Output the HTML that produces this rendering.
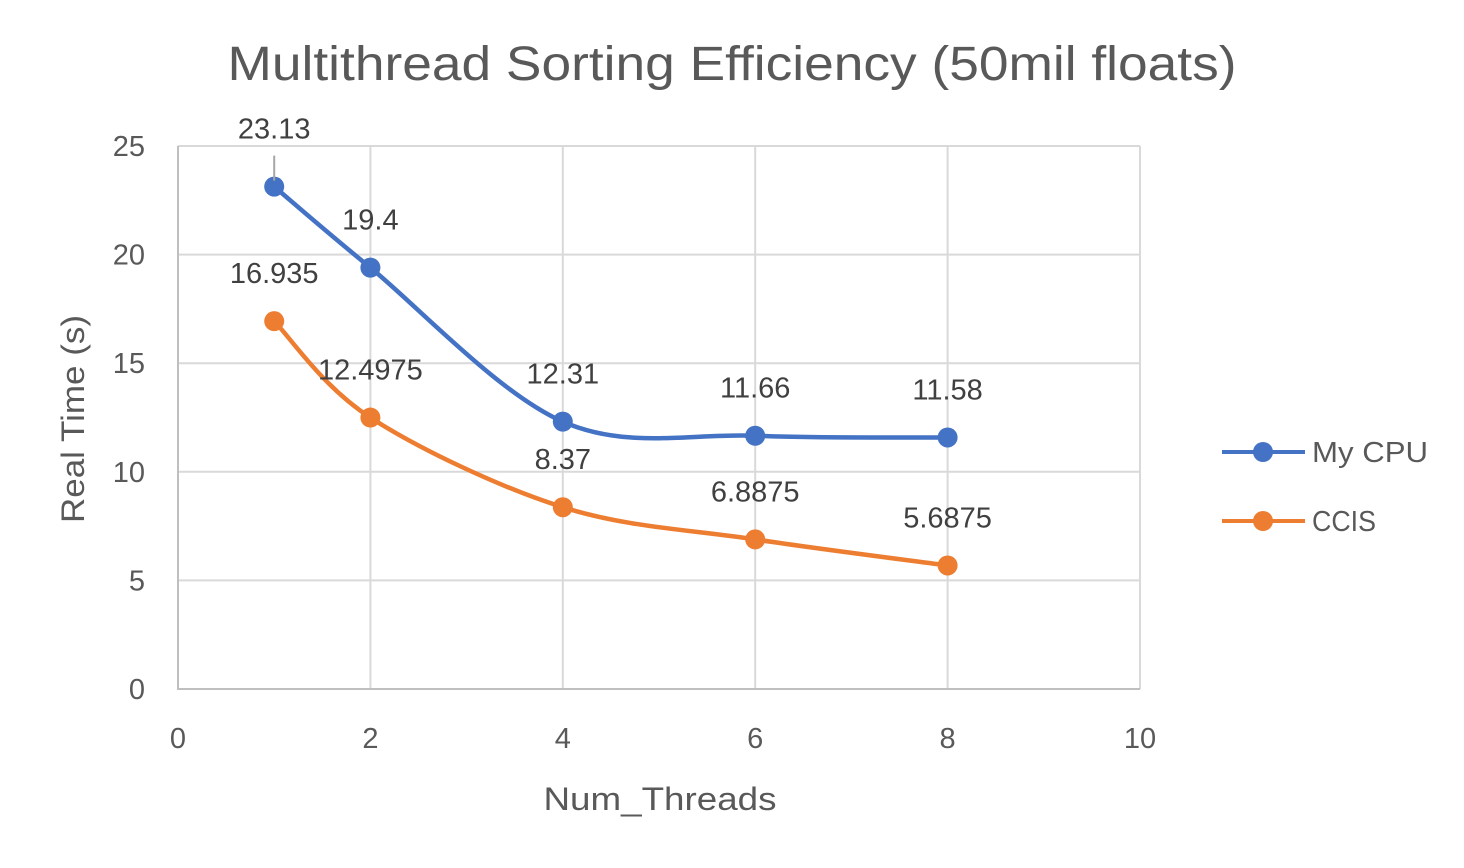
<!DOCTYPE html>
<html><head><meta charset="utf-8"><style>
html,body{margin:0;padding:0;background:#fff;}
svg{display:block;font-family:"Liberation Sans",sans-serif;}
</style></head><body>
<svg id="chart" width="1464" height="868" viewBox="0 0 1464 868">
<rect width="1464" height="868" fill="#fff"/>
<text x="732" y="80" text-anchor="middle" font-size="48" fill="#595959" textLength="1009" lengthAdjust="spacingAndGlyphs">Multithread Sorting Efficiency (50mil floats)</text>
<g id="grid"></g><g id="axes"></g><g id="series"></g><g id="labels"></g>
<text x="660" y="810" text-anchor="middle" font-size="32" fill="#595959" textLength="233" lengthAdjust="spacingAndGlyphs">Num_Threads</text>
<text transform="translate(84,419) rotate(-90)" text-anchor="middle" font-size="32" fill="#595959" textLength="208" lengthAdjust="spacingAndGlyphs">Real Time (s)</text>
<g>
 <g>
  <line x1="1222" y1="452" x2="1305" y2="452" stroke="#4472C4" stroke-width="4"/>
  <circle cx="1263" cy="452" r="10" fill="#4472C4"/>
  <text x="1312" y="462" font-size="29" fill="#595959" textLength="116" lengthAdjust="spacingAndGlyphs">My CPU</text>
 </g>
 <g>
  <line x1="1222" y1="521" x2="1305" y2="521" stroke="#ED7D31" stroke-width="4"/>
  <circle cx="1263" cy="521" r="10" fill="#ED7D31"/>
  <text x="1312" y="531" font-size="29" fill="#595959" textLength="64" lengthAdjust="spacingAndGlyphs">CCIS</text>
 </g>
</g>
</svg>
<script>
const threads=[1,2,4,6,8];
const myCpu=[23.13,19.4,12.31,11.66,11.58];
const ccis=[16.935,12.4975,8.37,6.8875,5.6875];
const myCpuLabels=["23.13","19.4","12.31","11.66","11.58"];
const ccisLabels=["16.935","12.4975","8.37","6.8875","5.6875"];
const xTicks=[0,2,4,6,8,10];
const yTicks=[0,5,10,15,20,25];
const NS="http://www.w3.org/2000/svg";
const X0=178,X1=1140,Y0=689,Y1=146;
const xs=v=>X0+(v-0)/(10-0)*(X1-X0);
const ys=v=>Y0-(v-0)/(25-0)*(Y0-Y1);
function mk(tag,attrs,parent){const e=document.createElementNS(NS,tag);for(const k in attrs)e.setAttribute(k,attrs[k]);document.getElementById(parent).appendChild(e);return e;}
yTicks.forEach(t=>{
 const l=mk('line',{x1:X0,x2:X1,y1:ys(t),y2:ys(t),stroke:'#D9D9D9','stroke-width':2},'grid');
 
 
 const tx=mk('text',{x:145,y:ys(t)+10,'text-anchor':'end','font-size':29,fill:'#595959'},'axes');
 tx.textContent=t;
 
 
});
xTicks.forEach(t=>{
 const l=mk('line',{x1:xs(t),x2:xs(t),y1:Y1,y2:Y0,stroke:'#D9D9D9','stroke-width':2},'grid');
 
 
 const tx=mk('text',{x:xs(t),y:748,'text-anchor':'middle','font-size':29,fill:'#595959'},'axes');
 tx.textContent=t;
 
 
});
function smooth(pts){
 let d=`M${pts[0][0]},${pts[0][1]}`;
 for(let i=0;i<pts.length-1;i++){
  const p0=pts[Math.max(0,i-1)],p1=pts[i],p2=pts[i+1],p3=pts[Math.min(pts.length-1,i+2)];
  const c1=[p1[0]+(p2[0]-p0[0])/6,p1[1]+(p2[1]-p0[1])/6];
  const c2=[p2[0]-(p3[0]-p1[0])/6,p2[1]-(p3[1]-p1[1])/6];
  d+=` C${c1[0]},${c1[1]} ${c2[0]},${c2[1]} ${p2[0]},${p2[1]}`;
 }
 return d;
}
function series(vals,labels,color,name){
 const pts=threads.map((t,i)=>[xs(t),ys(vals[i])]);
 const p=mk('path',{d:smooth(pts),fill:'none',stroke:color,'stroke-width':4.5},'series');
 
 
 pts.forEach((pt,i)=>{
  const c=mk('circle',{cx:pt[0],cy:pt[1],r:10,fill:color},'series');
  
  
  const off=(name==='my-cpu'&&i===0)?58:48;
  const tx=mk('text',{x:pt[0],y:pt[1]-off+10,'text-anchor':'middle','font-size':29,fill:'#404040'},'labels');
  tx.textContent=labels[i];
  
  
  if(off===58){
   const ln=mk('line',{x1:pt[0],x2:pt[0],y1:pt[1]-31,y2:pt[1]-6,stroke:'#A6A6A6','stroke-width':2},'labels');
   
   
  }
 });
}
const ax=mk('path',{d:`M${X0},${Y1} V${Y0} H${X1}`,fill:'none',stroke:'#BFBFBF','stroke-width':2},'axes');


series(ccis,ccisLabels,'#ED7D31','ccis');
series(myCpu,myCpuLabels,'#4472C4','my-cpu');
</script>
</body></html>
